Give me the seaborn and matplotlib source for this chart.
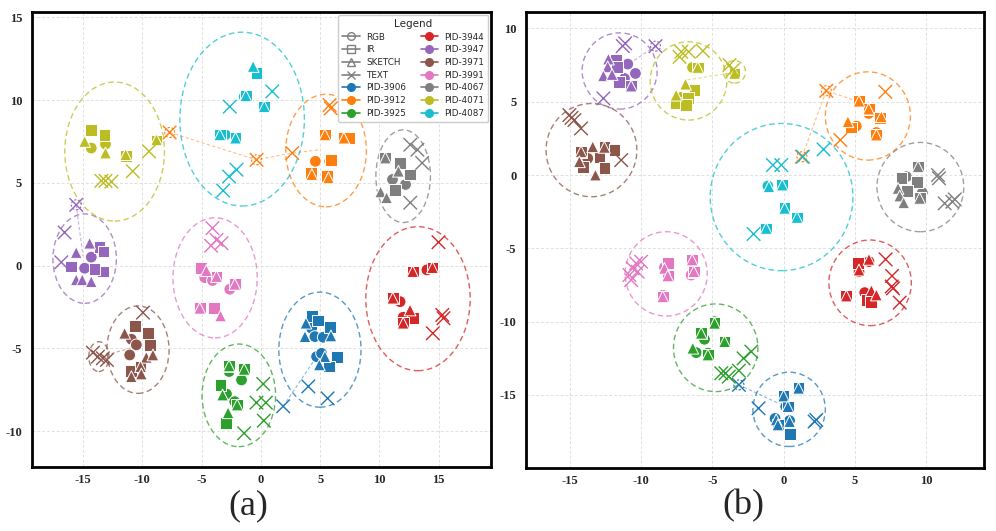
import numpy as np
import pandas as pd
import matplotlib
matplotlib.use("Agg")
from matplotlib import pyplot as plt
from matplotlib.patches import Ellipse
from matplotlib.lines import Line2D
import seaborn as sns

# -------------- datos (t-SNE, panel a y panel b)

pids = ["PID-3906", "PID-3912", "PID-3925", "PID-3944", "PID-3947",
        "PID-3971", "PID-3991", "PID-4067", "PID-4071", "PID-4087"]
modalidades = ["RGB", "IR", "SKETCH", "TEXT"]

# panel (a): (modalidad, x, y)
a_3906 = [("IR", 4.28, -3.04), ("IR", 4.84, -3.32), ("SKETCH", 3.8, -3.48), ("RGB", 4.28, -3.79),
          ("IR", 5.83, -3.73), ("SKETCH", 3.72, -4.29), ("RGB", 4.56, -4.29), ("RGB", 5.26, -4.33),
          ("SKETCH", 5.91, -4.25), ("RGB", 4.7, -5.5), ("RGB", 5.12, -5.3), ("SKETCH", 5.4, -5.5),
          ("IR", 6.39, -5.5), ("SKETCH", 4.93, -6.0), ("IR", 5.77, -6.1),
          ("TEXT", 4.0, -7.3), ("TEXT", 5.63, -8.02), ("TEXT", 1.88, -8.5)]
a_3912 = [("TEXT", 5.8, 9.7), ("TEXT", 5.9, 9.5), ("IR", 5.4, 7.9), ("SKETCH", 5.4, 7.9),
          ("IR", 7.0, 7.7), ("IR", 7.4, 7.7), ("SKETCH", 7.0, 7.7), ("RGB", 4.6, 6.3),
          ("RGB", 5.8, 6.3), ("IR", 5.9, 6.4), ("IR", 4.2, 5.6), ("SKETCH", 4.3, 5.5),
          ("IR", 5.6, 5.4), ("SKETCH", 5.7, 5.3),
          ("TEXT", 2.65, 6.8), ("TEXT", -0.36, 6.39), ("TEXT", -7.69, 8.04)]
a_3925 = [("IR", -2.68, -6.06), ("SKETCH", -2.68, -6.06), ("RGB", -2.68, -6.4), ("IR", -1.41, -6.27),
          ("SKETCH", -1.41, -6.27), ("RGB", -1.63, -6.91), ("IR", -3.4, -7.2), ("RGB", -2.9, -7.76),
          ("SKETCH", -3.23, -7.82), ("RGB", -2.2, -8.22), ("IR", -2.0, -8.42), ("SKETCH", -2.0, -8.42),
          ("SKETCH", -2.76, -8.89), ("IR", -2.96, -9.49),
          ("TEXT", 0.2, -7.15), ("TEXT", -0.37, -8.28), ("TEXT", 0.42, -8.28), ("TEXT", 0.25, -9.37),
          ("TEXT", -1.41, -10.13)]
a_3944 = [("TEXT", 14.98, 1.41), ("IR", 12.8, -0.36), ("SKETCH", 12.8, -0.36), ("RGB", 14.0, -0.26),
          ("IR", 14.47, -0.12), ("SKETCH", 14.47, -0.12), ("IR", 11.12, -1.97), ("SKETCH", 11.12, -1.97),
          ("RGB", 11.74, -2.18), ("SKETCH", 12.58, -2.68), ("IR", 12.86, -3.18), ("RGB", 12.0, -3.12),
          ("IR", 12.0, -3.48), ("SKETCH", 12.0, -3.48),
          ("TEXT", 15.3, -2.98), ("TEXT", 15.4, -3.18), ("TEXT", 14.5, -4.09)]
a_3947 = [("SKETCH", -14.44, 1.35), ("IR", -13.6, 1.11), ("IR", -13.26, 0.85), ("SKETCH", -15.57, 0.79),
          ("RGB", -14.3, 0.51), ("IR", -15.99, -0.06), ("RGB", -14.86, -0.16), ("IR", -13.32, -0.36),
          ("IR", -14.02, -0.22), ("SKETCH", -15.57, -0.86), ("SKETCH", -15.06, -0.86),
          ("SKETCH", -14.3, -0.97),
          ("TEXT", -16.83, 0.2), ("TEXT", -16.55, 2.0), ("TEXT", -15.57, 3.67)]
a_3971 = [("IR", -10.64, -3.65), ("SKETCH", -11.49, -4.09), ("IR", -9.52, -4.09), ("RGB", -10.92, -4.45),
          ("RGB", -10.5, -4.79), ("IR", -9.38, -4.79), ("RGB", -11.06, -5.4), ("SKETCH", -9.66, -5.54),
          ("SKETCH", -9.1, -5.4), ("IR", -10.98, -6.37), ("IR", -10.14, -6.1), ("SKETCH", -10.14, -6.1),
          ("SKETCH", -10.92, -6.71), ("SKETCH", -10.08, -6.55),
          ("TEXT", -9.94, -2.84), ("TEXT", -14.16, -5.26), ("TEXT", -13.74, -5.5), ("TEXT", -13.32, -5.6),
          ("TEXT", -12.98, -5.7)]
a_3991 = [("IR", -5.07, -0.16), ("SKETCH", -4.59, -0.3), ("RGB", -4.73, -0.73), ("RGB", -4.08, -0.9),
          ("IR", -3.74, -0.66), ("SKETCH", -3.74, -0.66), ("RGB", -2.62, -1.43), ("IR", -2.2, -1.13),
          ("SKETCH", -2.2, -1.13), ("IR", -5.15, -2.58), ("SKETCH", -5.15, -2.58), ("IR", -3.94, -2.58),
          ("SKETCH", -3.4, -3.04),
          ("TEXT", -4.08, 2.26), ("TEXT", -3.74, 1.55), ("TEXT", -3.32, 1.35), ("TEXT", -4.2, 1.2)]
a_4067 = [("IR", 10.5, 6.5), ("SKETCH", 10.5, 6.5), ("IR", 11.7, 6.2), ("RGB", 11.1, 5.2),
          ("RGB", 12.2, 4.9), ("SKETCH", 10.1, 4.45), ("SKETCH", 10.6, 4.1), ("IR", 12.6, 5.5),
          ("SKETCH", 11.6, 5.7), ("IR", 11.3, 4.55),
          ("TEXT", 12.6, 7.3), ("TEXT", 13.6, 6.2), ("TEXT", 12.6, 3.8), ("TEXT", 13.2, 7.0)]
a_4071 = [("IR", -14.3, 8.2), ("IR", -13.18, 7.9), ("IR", -11.4, 6.6), ("IR", -8.8, 7.56),
          ("SKETCH", -14.86, 7.5), ("SKETCH", -13.1, 6.8), ("RGB", -14.3, 7.1), ("RGB", -13.1, 7.34),
          ("SKETCH", -11.4, 6.7), ("SKETCH", -8.8, 7.6),
          ("TEXT", -9.43, 6.9), ("TEXT", -10.8, 5.7), ("TEXT", -13.45, 5.12), ("TEXT", -13.1, 5.12),
          ("TEXT", -12.6, 5.07)]
a_4087 = [("SKETCH", -0.65, 12.03), ("IR", -0.36, 11.63), ("RGB", -1.4, 10.2), ("IR", -1.27, 10.26),
          ("SKETCH", -1.27, 10.26), ("IR", 0.28, 9.6), ("SKETCH", 0.28, 9.6), ("IR", -3.46, 7.9),
          ("SKETCH", -3.46, 7.9), ("RGB", -3.0, 7.9), ("IR", -2.14, 7.7), ("SKETCH", -2.14, 7.7),
          ("TEXT", 0.96, 10.52), ("TEXT", -2.62, 9.6), ("TEXT", -2.05, 5.79), ("TEXT", -2.68, 5.38),
          ("TEXT", -3.18, 4.53)]

# panel (b)
b_3906 = [("IR", 1.05, -14.54), ("SKETCH", 1.05, -14.54), ("IR", 0.0, -15.07), ("SKETCH", 0.0, -15.07),
          ("RGB", 0.15, -15.79), ("IR", 0.3, -15.79), ("SKETCH", 0.3, -15.79), ("RGB", -0.6, -16.6),
          ("SKETCH", -0.52, -16.7), ("IR", -0.4, -17.04), ("SKETCH", -0.4, -17.04), ("RGB", 0.42, -16.75),
          ("SKETCH", 0.42, -16.81), ("IR", 0.47, -17.66),
          ("TEXT", -1.76, -15.91), ("TEXT", 2.3, -16.7), ("TEXT", 2.18, -16.81), ("TEXT", -3.14, -14.31)]
b_3912 = [("IR", 5.3, 5.04), ("SKETCH", 5.3, 5.04), ("RGB", 5.98, 4.2), ("IR", 5.98, 4.5),
          ("SKETCH", 5.98, 4.5), ("IR", 6.8, 3.9), ("SKETCH", 6.87, 3.98), ("SKETCH", 4.52, 3.64),
          ("RGB", 5.11, 3.34), ("IR", 4.76, 3.25), ("RGB", 6.52, 2.9), ("IR", 6.52, 2.73),
          ("SKETCH", 6.52, 2.73),
          ("TEXT", 7.15, 5.68), ("TEXT", 3.99, 2.39), ("TEXT", 3.0, 5.75), ("TEXT", 1.29, 1.25)]
b_3925 = [("RGB", -4.85, -10.0), ("IR", -4.85, -10.11), ("SKETCH", -4.85, -10.11), ("RGB", -5.56, -11.2),
          ("IR", -5.79, -10.79), ("SKETCH", -5.79, -10.79), ("IR", -4.15, -11.36), ("SKETCH", -4.15, -11.36),
          ("RGB", -6.14, -12.11), ("SKETCH", -6.38, -11.81), ("RGB", -5.32, -12.15), ("IR", -5.32, -12.27),
          ("SKETCH", -5.32, -12.27),
          ("TEXT", -2.27, -12.04), ("TEXT", -2.81, -12.5), ("TEXT", -3.14, -13.34), ("TEXT", -4.08, -13.52),
          ("TEXT", -4.38, -13.52), ("TEXT", -3.85, -13.75)]
b_3944 = [("IR", 5.23, -5.98), ("RGB", 6.0, -5.9), ("SKETCH", 6.0, -5.75), ("RGB", 5.3, -6.59),
          ("SKETCH", 5.3, -6.48), ("IR", 4.41, -8.25), ("SKETCH", 4.41, -8.25), ("RGB", 5.7, -8.02),
          ("SKETCH", 6.17, -7.88), ("IR", 5.82, -8.52), ("SKETCH", 6.52, -8.18), ("IR", 6.17, -8.64),
          ("TEXT", 7.17, -5.75), ("TEXT", 7.62, -6.88), ("TEXT", 7.69, -7.73), ("TEXT", 7.6, -7.6),
          ("TEXT", 8.16, -8.7)]
b_3947 = [("SKETCH", -12.31, 7.91), ("IR", -11.77, 7.84), ("RGB", -10.95, 7.57), ("SKETCH", -12.36, 7.38),
          ("IR", -11.72, 7.38), ("RGB", -10.41, 6.93), ("SKETCH", -12.66, 6.77), ("SKETCH", -12.05, 6.86),
          ("IR", -11.58, 6.36), ("RGB", -11.18, 6.59), ("IR", -10.71, 6.07), ("SKETCH", -10.71, 6.07),
          ("TEXT", -11.13, 8.98), ("TEXT", -11.3, 8.8), ("TEXT", -12.66, 5.23), ("TEXT", -9.0, 8.79)]
b_3971 = [("IR", -14.23, 1.59), ("SKETCH", -14.23, 1.59), ("SKETCH", -13.41, 1.93), ("IR", -12.59, 1.89),
          ("SKETCH", -12.59, 1.89), ("IR", -11.88, 1.7), ("RGB", -13.76, 1.14), ("SKETCH", -14.35, 0.91),
          ("IR", -12.94, 1.25), ("IR", -14.11, 0.57), ("IR", -12.59, 0.46), ("SKETCH", -13.22, 0.0),
          ("TEXT", -15.05, 4.09), ("TEXT", -14.7, 3.75), ("TEXT", -14.23, 3.18), ("TEXT", -14.9, 3.9),
          ("TEXT", -11.41, 1.02)]
b_3991 = [("IR", -8.14, -5.98), ("RGB", -8.37, -6.3), ("SKETCH", -8.37, -6.36), ("IR", -8.14, -6.88),
          ("SKETCH", -8.14, -6.88), ("IR", -6.42, -5.79), ("SKETCH", -6.42, -5.79), ("RGB", -6.49, -6.82),
          ("IR", -6.31, -6.59), ("SKETCH", -6.31, -6.59), ("RGB", -8.49, -8.2), ("IR", -8.49, -8.3),
          ("SKETCH", -8.49, -8.3),
          ("TEXT", -10.36, -6.02), ("TEXT", -10.6, -6.36), ("TEXT", -10.01, -5.91), ("TEXT", -10.83, -6.82),
          ("TEXT", -10.71, -7.16), ("TEXT", -10.25, -6.59)]
b_4067 = [("IR", 9.45, 0.57), ("SKETCH", 9.45, 0.57), ("RGB", 8.63, -0.11), ("IR", 8.28, -0.22),
          ("IR", 9.38, -0.46), ("SKETCH", 8.04, -0.91), ("IR", 8.67, -1.07), ("RGB", 9.75, -1.2),
          ("SKETCH", 8.16, -1.43), ("IR", 9.56, -1.59), ("SKETCH", 9.56, -1.59), ("SKETCH", 8.44, -1.89),
          ("TEXT", 10.85, 0.0), ("TEXT", 10.92, -0.22), ("TEXT", 11.32, -1.93), ("TEXT", 11.86, -1.82),
          ("TEXT", 12.03, -1.66)]
b_4071 = [("TEXT", -7.19, 8.41), ("TEXT", -6.66, 8.41), ("TEXT", -5.67, 8.47), ("TEXT", -7.31, 8.06),
          ("RGB", -6.4, 7.34), ("IR", -6.03, 7.34), ("SKETCH", -6.03, 7.34), ("SKETCH", -6.89, 6.2),
          ("IR", -6.26, 5.79), ("SKETCH", -7.55, 5.45), ("RGB", -7.19, 5.3), ("IR", -6.73, 5.23),
          ("IR", -7.55, 4.93), ("IR", -6.84, 4.77),
          ("TEXT", -3.8, 7.5), ("TEXT", -3.56, 7.16), ("IR", -3.45, 6.93), ("SKETCH", -3.45, 6.93)]
b_4087 = [("TEXT", 2.81, 1.75), ("TEXT", 1.36, 1.25), ("TEXT", -0.75, 0.68), ("TEXT", -0.16, 0.68),
          ("RGB", -1.1, -0.75), ("SKETCH", -1.03, -0.8), ("IR", -0.09, -0.68), ("SKETCH", -0.09, -0.68),
          ("IR", 0.07, -2.27), ("SKETCH", 0.07, -2.27), ("IR", 0.94, -2.89), ("SKETCH", 0.94, -2.89),
          ("IR", -1.22, -3.64), ("SKETCH", -1.22, -3.64), ("TEXT", -2.11, -4.02)]

# circulos punteados de cada identidad: (pid, cx, cy, ancho, alto)
a_circulos = [("PID-3906", 4.98, -5.08, 6.93, 6.95), ("PID-3912", 5.5, 6.95, 6.8, 6.8),
              ("PID-3925", -1.86, -7.84, 6.2, 6.2), ("PID-3944", 13.25, -2.0, 8.8, 8.7),
              ("PID-3947", -14.86, 0.42, 5.35, 5.4), ("PID-3971", -10.36, -5.08, 5.24, 5.28),
              ("PID-3991", -3.86, -0.74, 7.1, 7.26), ("PID-4067", 12.0, 5.4, 4.6, 5.6),
              ("PID-4071", -12.33, 6.89, 8.4, 8.4), ("PID-4087", -1.58, 8.85, 10.5, 10.5),
              ("PID-3971", -13.66, -5.5, 1.7, 1.8)]
b_circulos = [("PID-3906", 0.39, -15.98, 5.09, 5.07), ("PID-3912", 5.92, 4.03, 5.98, 6.02),
              ("PID-3925", -4.77, -11.78, 5.93, 5.98), ("PID-3944", 6.08, -7.35, 5.79, 5.84),
              ("PID-3947", -11.52, 7.1, 5.27, 5.2), ("PID-3971", -13.5, 1.7, 6.38, 6.36),
              ("PID-3991", -8.25, -6.74, 5.77, 5.75), ("PID-4067", 9.61, -0.82, 6.1, 6.09),
              ("PID-4071", -6.68, 6.42, 5.39, 5.34), ("PID-4087", -0.14, -1.5, 10.03, 10.04),
              ("PID-4071", -3.45, 7.04, 1.54, 1.54)]

# lineas punteadas de los TEXT alejados hacia su grupo
a_lineas = [("PID-3912", [(-7.69, 8.04), (-0.36, 6.39), (2.65, 6.8), (5.0, 7.0)]),
            ("PID-3947", [(-15.57, 3.67), (-15.0, 0.6)]),
            ("PID-3971", [(-13.5, -5.5), (-10.6, -4.9)]),
            ("PID-3906", [(1.88, -8.5), (4.42, -5.8)])]
b_lineas = [("PID-3947", [(-9.0, 8.79), (-10.83, 7.61)]),
            ("PID-4071", [(-3.45, 7.0), (-6.84, 6.48)]),
            ("PID-3912", [(1.29, 1.25), (3.0, 5.75), (5.3, 5.0)]),
            ("PID-3906", [(-3.14, -14.31), (-0.28, -15.6)])]
# outliers marcados con circulito
a_marcados = [("PID-3912", -7.69, 8.04), ("PID-3912", -0.36, 6.39), ("PID-3947", -15.57, 3.67)]
b_marcados = [("PID-3947", -9.0, 8.79), ("PID-3912", 3.0, 5.75), ("PID-3912", 1.29, 1.25),
              ("PID-3906", -3.14, -14.31)]

paleta = dict(zip(pids, sns.color_palette("tab10", 10)))
marcadores = {"RGB": "o", "IR": "s", "SKETCH": "^"}


def armar_df(grupos):
    filas = []
    for pid, puntos in grupos:
        for m, x, y in puntos:
            filas.append({"pid": pid, "mod": m, "x": x, "y": y})
    df = pd.DataFrame(filas)
    df["orden"] = df["mod"].map({"RGB": 0, "IR": 1, "SKETCH": 2, "TEXT": 3})
    return df.sort_values("orden", kind="stable")


df_a = armar_df(zip(pids, [a_3906, a_3912, a_3925, a_3944, a_3947, a_3971, a_3991, a_4067, a_4071, a_4087]))
df_b = armar_df(zip(pids, [b_3906, b_3912, b_3925, b_3944, b_3947, b_3971, b_3991, b_4067, b_4071, b_4087]))

sns.set_theme(style="white")
plt.rcParams["font.family"] = ["DejaVu Sans"]


def dibujar(ax, df, circulos, lineas, marcados, xlim, ylim, xt, yt, px_x, px_y):
    for pid, pts in lineas:
        xs, ys = zip(*pts)
        ax.plot(xs, ys, color=paleta[pid], lw=0.8, ls=(0, (3, 2)), alpha=0.5, zorder=1)
    for pid, cx, cy, w, h in circulos:
        ax.add_patch(Ellipse((cx, cy), w, h, fill=False, edgecolor=paleta[pid],
                             lw=1.0, ls=(0, (4, 2.5)), alpha=0.75, zorder=1))
    llenos = df[df["mod"] != "TEXT"]
    sns.scatterplot(data=llenos, x="x", y="y", hue="pid", style="mod", palette=paleta,
                    markers=marcadores, s=72, edgecolor="white", linewidth=0.7,
                    legend=False, ax=ax, zorder=3)
    textos = df[df["mod"] == "TEXT"]
    sns.scatterplot(data=textos, x="x", y="y", hue="pid", palette=paleta, marker="x",
                    s=95, linewidth=1.0, legend=False, ax=ax, zorder=3)
    # circulito de ~10 px alrededor de los outliers
    for pid, x, y in marcados:
        ax.add_patch(Ellipse((x, y), 10 / px_x, 10 / px_y, fill=False, edgecolor=paleta[pid],
                             lw=0.8, ls=(0, (2, 1.5)), zorder=2))
    ax.set_xlim(*xlim)
    ax.set_ylim(*ylim)
    ax.set_xticks(xt)
    ax.set_yticks(yt)
    ax.set_xticklabels([str(v) for v in xt])
    ax.set_yticklabels([str(v) for v in yt])
    ax.set_xlabel("")
    ax.set_ylabel("")
    ax.grid(True, color="#e0e0e0", ls=(0, (3, 2)), lw=0.7)
    ax.set_axisbelow(True)
    for s in ax.spines.values():
        s.set_linewidth(2.0)
        s.set_color("black")
    ax.tick_params(direction="in", length=5, width=2, color="black")
    ax.tick_params(axis="x", pad=5)
    ax.tick_params(axis="y", pad=7)
    for t in ax.get_xticklabels() + ax.get_yticklabels():
        t.set_fontfamily("Liberation Serif")
        t.set_fontweight("bold")
        t.set_fontsize(9)


fig = plt.figure(figsize=(9.96, 5.31), dpi=100)
ax1 = fig.add_axes([0.0321, 0.1211, 0.4608, 0.8557])
ax2 = fig.add_axes([0.5281, 0.1181, 0.4601, 0.8587])

dibujar(ax1, df_a, a_circulos, a_lineas, a_marcados, (-19.3, 19.4), (-12.15, 15.3),
        [-15, -10, -5, 0, 5, 10, 15], [-10, -5, 0, 5, 10, 15], 11.84, 16.54)
dibujar(ax2, df_b, b_circulos, b_lineas, b_marcados, (-18.1, 14.1), (-20.0, 11.1),
        [-15, -10, -5, 0, 5, 10], [-15, -10, -5, 0, 5, 10], 14.22, 14.67)

# leyenda: modalidades en gris hueco y PIDs en color
manejadores = []
for m, mk in zip(modalidades, ["o", "s", "^", "x"]):
    manejadores.append(Line2D([0], [0], color="gray", marker=mk, markerfacecolor="none",
                              markeredgecolor="gray", markersize=5.5, lw=1.2, label=m))
for pid in pids:
    manejadores.append(Line2D([0], [0], color=paleta[pid], marker="o", markersize=5.5,
                              lw=1.2, label=pid))
leg = ax1.legend(handles=manejadores, title="Legend", ncol=2, loc="upper right",
                 fontsize=6.3, title_fontsize=7.5, labelspacing=0.42, columnspacing=1.7,
                 handlelength=2.0, handletextpad=0.7, borderpad=0.45, borderaxespad=0.3,
                 frameon=True, framealpha=1)
leg.get_frame().set_edgecolor("#cccccc")

fig.text(0.249, 0.048, "(a)", ha="center", va="center", fontsize=26, fontfamily="Liberation Serif")
fig.text(0.746, 0.048, "(b)", ha="center", va="center", fontsize=26, fontfamily="Liberation Serif")

fig.savefig("out.png", dpi=100)
